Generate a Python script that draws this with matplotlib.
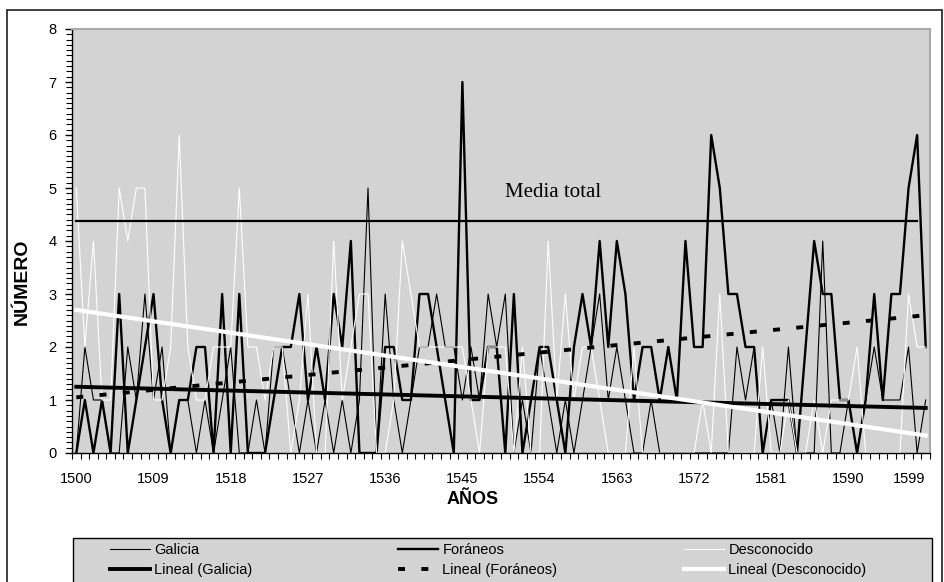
import numpy as np
import matplotlib
matplotlib.use("Agg")
import matplotlib.pyplot as plt
from matplotlib.ticker import MultipleLocator, FixedLocator
from matplotlib.patches import Rectangle

plt.rcParams['font.family'] = ['Liberation Sans', 'DejaVu Sans']

# categories
years = list(range(1500, 1600))

# series
galicia = [0, 2, 1, 1, 0, 0, 2, 1, 3, 1,
           2, 0, 1, 1, 0, 1, 0, 1, 2, 0,
           0, 1, 0, 2, 2, 1, 0, 1, 0, 1,
           0, 1, 0, 1, 5, 0, 3, 1, 0, 1,
           2, 2, 3, 2, 2, 1, 2, 1, 3, 2,
           3, 0, 1, 0, 2, 1, 0, 1, 0, 1,
           2, 3, 1, 2, 1, 0, 0, 1, 0, 0,
           0, 0, 0, 0, 0, 0, 0, 2, 1, 2,
           0, 1, 0, 2, 0, 0, 0, 4, 0, 0,
           1, 0, 1, 2, 1, 1, 1, 2, 0, 1]

foraneos = [0, 1, 0, 1, 0, 3, 0, 1, 2, 3,
            1, 0, 1, 1, 2, 2, 0, 3, 0, 3,
            0, 0, 0, 1, 2, 2, 3, 1, 2, 1,
            3, 2, 4, 0, 0, 0, 2, 2, 1, 1,
            3, 3, 2, 1, 0, 7, 1, 1, 2, 2,
            0, 3, 0, 1, 2, 2, 1, 0, 2, 3,
            2, 4, 2, 4, 3, 1, 2, 2, 1, 2,
            1, 4, 2, 2, 6, 5, 3, 3, 2, 2,
            0, 1, 1, 1, 0, 2, 4, 3, 3, 1,
            1, 0, 1, 3, 1, 3, 3, 5, 6, 2]

desconocido = [5, 2, 4, 1, 1, 5, 4, 5, 5, 1,
               1, 2, 6, 2, 1, 1, 2, 2, 2, 5,
               2, 2, 1, 2, 2, 0, 1, 3, 0, 0,
               4, 1, 2, 3, 3, 0, 0, 1, 4, 3,
               2, 2, 2, 2, 2, 2, 1, 0, 2, 2,
               2, 0, 2, 0, 0, 4, 1, 3, 1, 2,
               2, 1, 0, 0, 0, 2, 0, 0, 0, 0,
               0, 0, 0, 1, 0, 3, 0, 0, 0, 0,
               2, 0, 0, 1, 0, 0, 1, 0, 1, 1,
               1, 2, 0, 0, 0, 0, 0, 3, 2, 2]

# linear trend lines (end points)
trend_years = [1500, 1599]
trend_galicia = [1.25, 0.85]
trend_foraneos = [1.05, 2.60]
trend_desconocido = [2.70, 0.33]

media_total = 4.38
media_years = [1500, 1598]

xtick_years = [1500, 1509, 1518, 1527, 1536, 1545, 1554, 1563, 1572, 1581, 1590, 1599]

W, H = 944, 582
fig = plt.figure(figsize=(W / 100, H / 100), dpi=100)
ax = fig.add_axes([72 / W, 1 - 453 / H, (930 - 72) / W, (453 - 29) / H])
ax.set_facecolor('#d3d3d3')

l_gal, = ax.plot(years, galicia, color='black', lw=0.8, label='Galicia')
l_for, = ax.plot(years, foraneos, color='black', lw=1.7, label='Foráneos')
l_des, = ax.plot(years, desconocido, color='white', lw=0.8, label='Desconocido')

t_gal, = ax.plot(trend_years, trend_galicia, color='black', lw=2.8, label='Lineal (Galicia)')
t_for, = ax.plot(trend_years, trend_foraneos, color='black', lw=2.8,
                 linestyle=(0, (1.8, 4.2)), label='Lineal (Foráneos)')
t_des, = ax.plot(trend_years, trend_desconocido, color='white', lw=3, label='Lineal (Desconocido)')

ax.plot(media_years, [media_total, media_total], color='black', lw=1.6)
ax.text(1555.6, 4.92, 'Media total', family='Liberation Serif', fontsize=15,
        ha='center', va='center')

ax.set_xlim(1499.5, 1599.5)
ax.set_ylim(0, 8)

ax.yaxis.set_major_locator(MultipleLocator(1))
ax.yaxis.set_minor_locator(MultipleLocator(0.1))
ax.tick_params(axis='y', which='major', direction='out', length=5, width=1, pad=6, labelsize=10.5)
ax.tick_params(axis='y', which='minor', direction='out', length=4, width=0.8)

ax.set_xticks(xtick_years)
ax.xaxis.set_minor_locator(FixedLocator(np.arange(1499.5, 1600, 1)))
ax.tick_params(axis='x', which='major', length=0, pad=14, labelsize=10.5)
ax.tick_params(axis='x', which='minor', direction='out', length=4, width=0.8)
ax.get_xticklabels()[-1].set_horizontalalignment('right')

for s in ['left', 'bottom']:
    ax.spines[s].set_color('black')
    ax.spines[s].set_linewidth(1)
for s in ['top', 'right']:
    ax.spines[s].set_color('#a8a8a8')
    ax.spines[s].set_linewidth(1.5)

fig.text(473 / W, 1 - 499 / H, 'AÑOS', fontsize=13, fontweight='bold', ha='center', va='center')
fig.text(22 / W, 1 - 282 / H, 'NÚMERO', fontsize=14, fontweight='bold', ha='center',
         va='center', rotation=90)

# outer chart border
fig.patches.append(Rectangle((7 / W, -0.1), (942 - 7) / W, 1 - 10 / H + 0.1,
                             transform=fig.transFigure, fill=False,
                             edgecolor='#202020', lw=1.2))
# legend box
fig.patches.append(Rectangle((73 / W, -0.1), (932 - 73) / W, 1 - 538 / H + 0.1,
                             transform=fig.transFigure, facecolor='#d3d3d3',
                             edgecolor='black', lw=1, zorder=2))

cols = [(110, [l_gal, t_gal]), (398, [l_for, t_for]), (684, [l_des, t_des])]
for x0, hs in cols:
    leg = fig.legend(handles=hs, loc='upper left', bbox_to_anchor=(x0 / W, 1 - 543 / H),
                     frameon=False, borderpad=0, borderaxespad=0, handlelength=2.75,
                     handletextpad=0.3, labelspacing=0.4, fontsize=10.5)
    leg.set_zorder(3)

fig.savefig('out.png', dpi=100)
